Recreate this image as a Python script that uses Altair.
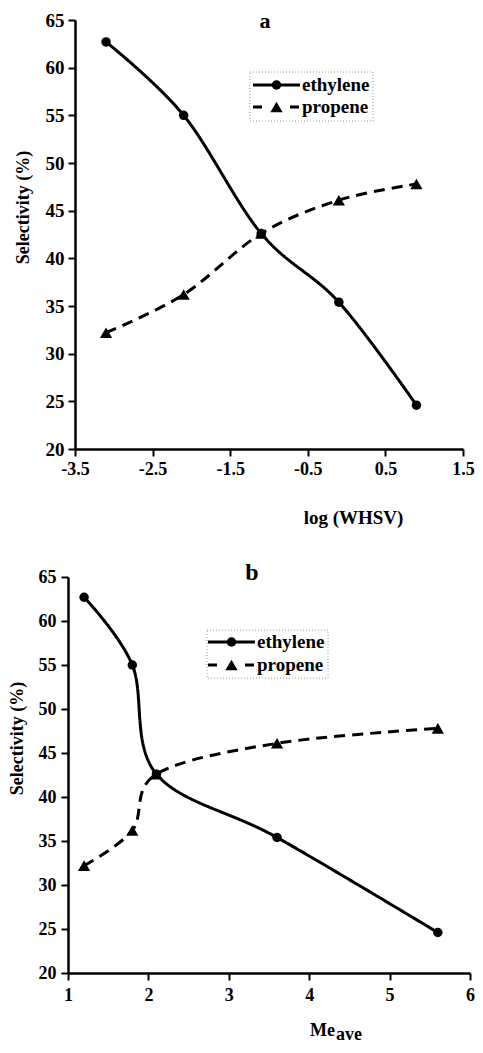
import altair as alt
import pandas as pd

# ---- data ----
whsv = [-3.1, -2.1, -1.1, -0.1, 0.9]
me_ave = [1.2, 1.8, 2.1, 3.6, 5.6]
ethylene = [62.7, 55.0, 42.6, 35.4, 24.6]
propene = [32.2, 36.2, 42.6, 46.1, 47.8]
series = ["ethylene", "propene"]
y_ticks = [20, 25, 30, 35, 40, 45, 50, 55, 60, 65]
x_ticks_a = [-3.5, -2.5, -1.5, -0.5, 0.5, 1.5]
x_ticks_b = [1, 2, 3, 4, 5, 6]
y_title = "Selectivity (%)"
x_title_a = "log (WHSV)"
x_title_b_main = "Me"
x_title_b_sub = "ave"
panel_labels = ["a", "b"]

FONT = "Liberation Serif"
DASHES = [[1, 0], [11, 7]]
SHAPES = ["circle", "triangle-up"]
SIZES = [90, 150]

# whole view: both panels share one plot area, each panel has its own scales
W, H = 403, 953
A_X_RANGE, A_Y_RANGE = [7, 395], [429, 0]
B_X_RANGE, B_Y_RANGE = [0, 402], [953, 557]


def long_df(xs, panel_name):
    rows = []
    for s, vals in zip(series, [ethylene, propene]):
        for x, v in zip(xs, vals):
            rows.append({"x": x, "y": v, "series": s, "panel": panel_name})
    return pd.DataFrame(rows)


def axis_common(lab_size, lab_pad):
    return dict(grid=False, tickSize=7, tickWidth=2, domainWidth=2.5,
                domainColor="black", tickColor="black", labelFont=FONT,
                labelFontSize=lab_size, labelFontWeight="bold", labelColor="black",
                labelPadding=lab_pad, labelFlush=False)


def panel_layers(xs, name, xdom, xrange, yrange, xaxis, yaxis):
    base = alt.Chart(long_df(xs, name))
    xsc = alt.Scale(domain=xdom, range=xrange, nice=False, zero=False)
    ysc = alt.Scale(domain=[20, 65], range=yrange, nice=False, zero=False)
    lines = base.mark_line(interpolate="cardinal", strokeWidth=3, color="black").encode(
        x=alt.X("x:Q", scale=xsc, axis=xaxis),
        y=alt.Y("y:Q", scale=ysc, axis=yaxis),
        strokeDash=alt.StrokeDash("series:N", scale=alt.Scale(domain=series, range=DASHES),
                                  legend=None),
        detail="series:N")
    pts = base.mark_point(filled=True, color="black", opacity=1).encode(
        x=alt.X("x:Q", scale=xsc, axis=None),
        y=alt.Y("y:Q", scale=ysc, axis=None),
        shape=alt.Shape("series:N", scale=alt.Scale(domain=series, range=SHAPES),
                        legend=None),
        size=alt.Size("series:N", scale=alt.Scale(domain=series, range=SIZES),
                      legend=None))
    return [lines, pts]


def text_layer(txt, x, y, size, align="left", baseline="alphabetic"):
    return alt.Chart(pd.DataFrame({"t": [txt]})).mark_text(
        font=FONT, fontSize=size, fontWeight="bold", align=align, baseline=baseline,
        color="black").encode(x=alt.value(x), y=alt.value(y), text="t:N")


def legend_layers(box, lx0, lx1, rows_y, tx):
    bx0, bx1, by0, by1 = box
    out = [alt.Chart(pd.DataFrame({"k": [0]})).mark_rect(
        fillOpacity=0, stroke="#9a9a9a", strokeWidth=1, strokeDash=[1, 2]).encode(
        x=alt.value(bx0), x2=alt.value(bx1), y=alt.value(by0), y2=alt.value(by1))]
    leg_dash = [[1, 0], [9, 28]]
    for s, ry, dash, shp, sz in zip(series, rows_y, leg_dash, SHAPES, SIZES):
        d = alt.Chart(pd.DataFrame({"series": [s]}))
        out.append(d.mark_rule(color="black", strokeWidth=3, strokeDash=dash).encode(
            x=alt.value(lx0), x2=alt.value(lx1), y=alt.value(ry)))
        out.append(d.mark_point(filled=True, size=sz, color="black", opacity=1,
                                shape=shp).encode(
            x=alt.value((lx0 + lx1) / 2), y=alt.value(ry)))
        out.append(d.mark_text(font=FONT, fontSize=19, fontWeight="bold", align="left",
                               baseline="middle", color="black").encode(
            x=alt.value(tx), y=alt.value(ry), text="series:N"))
    return out


label_a = "(datum.value < 0 ? '-' : '') + format(abs(datum.value), '.1f')"
label_b = "format(datum.value, 'd')"

# panel a axes
xaxis_a = alt.Axis(orient="bottom", values=x_ticks_a, labelExpr=label_a,
                   offset=A_Y_RANGE[0] - H, title=x_title_a, titleFont=FONT,
                   titleFontSize=19, titleFontWeight="bold", titleColor="black",
                   titleX=285, titleY=68, titleBaseline="middle", titleAlign="center",
                   **axis_common(18, 4))
yaxis_a = alt.Axis(orient="left", values=y_ticks, offset=-A_X_RANGE[0], title=y_title,
                   titleFont=FONT, titleFontSize=18, titleFontWeight="bold",
                   titleColor="black", titleAngle=270, titleBaseline="middle",
                   titleAlign="center", titleX=-52, titleY=187, **axis_common(19, 4))
# panel b axes
xaxis_b = alt.Axis(orient="bottom", values=x_ticks_b, labelExpr=label_b, title=None,
                   **axis_common(18, 6))
yaxis_b = alt.Axis(orient="left", values=y_ticks, title=y_title, titleFont=FONT,
                   titleFontSize=18, titleFontWeight="bold", titleColor="black",
                   titleAngle=270, titleBaseline="middle", titleAlign="center",
                   titleX=-51, titleY=718, **axis_common(18, 5))

layers = []
layers += panel_layers(whsv, "a", [-3.5, 1.5], A_X_RANGE, A_Y_RANGE, xaxis_a, yaxis_a)
layers += panel_layers(me_ave, "b", [1, 6], B_X_RANGE, B_Y_RANGE, xaxis_b, yaxis_b)

# panel letters
layers.append(text_layer(panel_labels[0], 197, 8, 22, align="center"))
layers.append(text_layer(panel_labels[1], 184, 560, 24, align="center"))
# legends
layers += legend_layers((182, 305, 52, 101), 185, 232, [65, 87], 234)
layers += legend_layers((139, 260, 610, 658), 140, 187, [622, 645], 189)
# x title of panel b with subscript
layers.append(text_layer(x_title_b_main, 242, 1016, 18))
layers.append(text_layer(x_title_b_sub, 268, 1020, 18))

chart = alt.layer(*layers).resolve_scale(x="independent", y="independent").properties(
    width=W, height=H, padding={"left": 0, "top": 2, "right": 0, "bottom": 0}
).configure_view(stroke="transparent", strokeWidth=0)

chart.save("out.html", embed_options={"renderer": "svg", "actions": False})
